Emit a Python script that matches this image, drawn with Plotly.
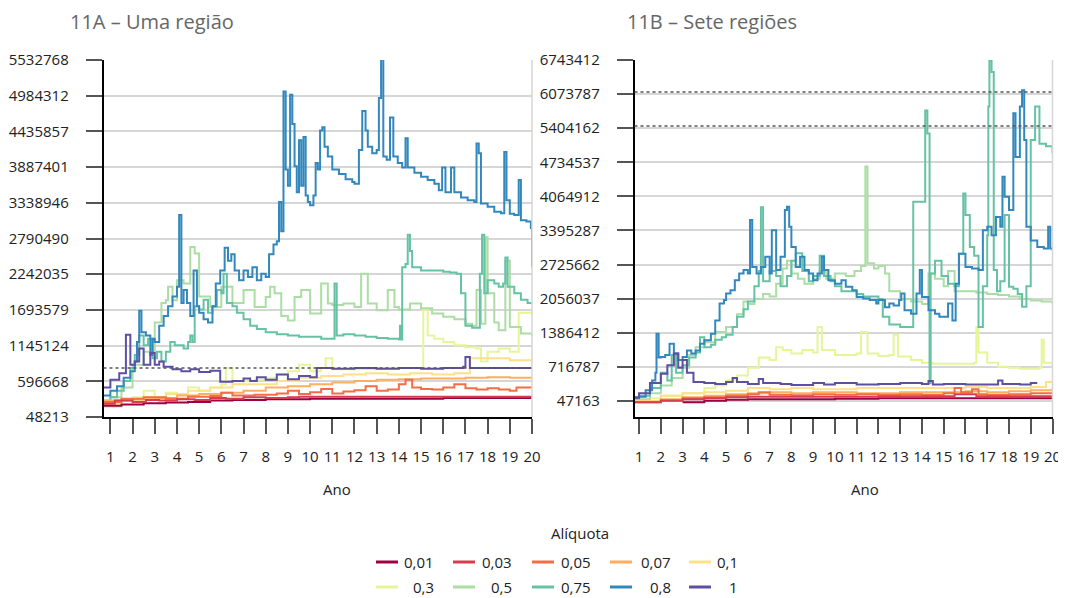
import plotly.graph_objects as go

# page is drawn with an 8px body margin: the figure is sized to fit and
# pixel positions below are given in screen coordinates
OFF = 8
W, H = 1066 - OFF, 598 - OFF

# aliquot classes and colours (Spectral)
aliquotas = ["0,01", "0,03", "0,05", "0,07", "0,1", "0,3", "0,5", "0,75", "0,8", "1"]
cores = ["#9E0142", "#D53E4F", "#F46D43", "#FDAE61", "#FEE08B",
         "#E6F598", "#ABDDA4", "#66C2A5", "#3288BD", "#5E4FA2"]

# y ticks (as printed)
ticks_a = [48213, 596668, 1145124, 1693579, 2242035, 2790490, 3338946, 3887401, 4435857, 4984312, 5532768]
ticks_b = [47163, 716787, 1386412, 2056037, 2725662, 3395287, 4064912, 4734537, 5404162, 6073787, 6743412]
anos = list(range(1, 21))

# reference (dotted) lines, millions
ref_a = [0.80]
ref_b = [5.445, 6.115]

# ---- 11A: one region (year, value in millions) ----
a_001 = [(0.7, 0.22), (1.5, 0.24), (2.5, 0.26), (3.5, 0.27), (4.5, 0.28), (5.5, 0.30), (6.5, 0.31), (8.0, 0.32),
         (10.0, 0.33), (12.0, 0.33), (14.0, 0.33), (16.0, 0.34), (18.0, 0.34), (20.0, 0.34)]
a_003 = [(0.7, 0.25), (1.2, 0.30), (2.0, 0.28), (2.6, 0.31), (3.2, 0.30), (4.0, 0.32), (4.8, 0.31), (5.5, 0.34),
         (6.2, 0.33), (7.0, 0.35), (8.0, 0.34), (9.0, 0.35), (9.5, 0.36), (11.0, 0.36), (13.0, 0.36), (15.0, 0.36),
         (17.0, 0.36), (18.0, 0.36), (20.0, 0.36)]
a_005 = [(0.7, 0.28), (1.5, 0.33), (2.5, 0.35), (3.5, 0.33), (4.5, 0.36), (5.5, 0.37), (6.0, 0.42), (6.5, 0.38),
         (7.5, 0.39), (8.5, 0.41), (9.0, 0.45), (9.5, 0.40), (10.0, 0.43), (10.5, 0.48), (11.0, 0.41), (11.5, 0.44),
         (12.0, 0.46), (12.5, 0.52), (13.0, 0.45), (13.5, 0.47), (14.0, 0.55), (14.3, 0.62), (14.6, 0.50),
         (15.0, 0.48), (15.5, 0.47), (16.0, 0.50), (16.5, 0.55), (17.0, 0.49), (17.5, 0.47), (18.0, 0.49),
         (18.5, 0.47), (19.0, 0.45), (19.3, 0.50), (20.0, 0.50)]
a_007 = [(0.7, 0.30), (2.0, 0.32), (3.0, 0.34), (4.0, 0.38), (5.0, 0.40), (6.0, 0.42), (7.0, 0.45), (8.0, 0.50),
         (9.0, 0.52), (10.0, 0.55), (11.0, 0.58), (12.0, 0.60), (13.0, 0.62), (14.0, 0.63), (15.0, 0.64),
         (16.0, 0.64), (17.0, 0.65), (18.0, 0.66), (19.0, 0.65), (20.0, 0.64)]
a_01 = [(0.7, 0.25), (1.5, 0.30), (2.5, 0.35), (3.5, 0.40), (4.5, 0.45), (5.5, 0.50), (6.5, 0.55), (7.5, 0.55),
        (8.5, 0.60), (9.5, 0.65), (10.5, 0.68), (11.5, 0.70), (12.5, 0.72), (13.5, 0.70), (14.5, 0.72),
        (15.5, 0.70), (16.5, 0.72), (17.1, 0.72), (17.2, 0.95), (18.0, 0.95), (19.0, 0.92), (20.0, 0.90)]
a_03 = [(0.7, 0.20), (1.5, 0.30), (2.0, 0.35), (2.5, 0.45), (3.0, 0.35), (3.5, 0.42), (4.0, 0.40), (4.5, 0.50),
        (5.0, 0.45), (5.5, 0.50), (6.0, 0.55), (6.2, 0.80), (6.5, 0.55), (7.0, 0.60), (7.5, 0.62), (8.0, 0.65),
        (8.5, 0.70), (9.0, 0.75), (9.5, 0.85), (10.0, 0.75), (10.5, 0.80), (10.7, 0.95), (11.0, 0.78),
        (12.0, 0.78), (13.0, 0.80), (14.0, 0.80), (15.0, 0.80), (15.1, 1.70), (15.3, 1.30), (15.6, 1.25),
        (16.0, 1.20), (16.5, 1.15), (17.0, 1.12), (17.5, 1.10), (17.7, 0.90), (18.0, 1.05), (18.5, 1.10),
        (19.0, 1.05), (19.4, 1.65), (20.0, 1.62)]
a_05 = [(0.7, 0.30), (1.0, 0.35), (1.5, 0.50), (2.0, 0.85), (2.5, 1.05), (3.0, 1.50), (3.3, 1.80), (3.5, 1.84),
        (3.6, 2.05), (3.8, 1.84), (4.0, 2.15), (4.3, 2.10), (4.6, 2.66), (4.8, 2.56), (5.0, 1.90), (5.5, 1.74),
        (6.0, 2.05), (6.5, 1.80), (7.0, 2.00), (7.5, 1.74), (8.0, 1.89), (8.2, 2.05), (8.4, 1.95), (8.7, 1.60),
        (9.0, 1.53), (9.3, 1.89), (9.6, 2.00), (10.0, 1.64), (10.5, 2.10), (10.8, 1.79), (11.0, 1.77),
        (11.5, 1.79), (12.0, 1.74), (12.3, 2.25), (12.6, 1.79), (13.0, 1.69), (13.5, 2.00), (13.8, 1.74),
        (14.0, 1.70), (14.5, 1.79), (15.0, 1.72), (15.5, 1.64), (16.0, 1.59), (16.5, 1.55), (17.0, 1.48),
        (17.3, 1.45), (17.5, 2.00), (17.7, 1.48), (17.9, 2.81), (18.0, 1.95), (18.3, 1.50), (18.5, 1.38),
        (18.8, 2.45), (19.0, 1.43), (19.5, 1.33), (20.0, 1.28)]
a_075 = [(0.7, 0.25), (1.0, 0.35), (1.3, 0.45), (1.6, 0.60), (1.9, 0.80), (2.1, 1.00), (2.3, 1.30), (2.5, 1.15),
         (2.7, 1.25), (2.9, 0.95), (3.1, 1.05), (3.3, 0.90), (3.5, 1.05), (3.7, 1.20), (3.9, 1.15), (4.1, 1.15),
         (4.3, 1.10), (4.5, 1.20), (4.6, 1.30), (4.7, 1.20), (4.8, 1.75), (5.0, 1.70), (5.2, 1.85), (5.4, 1.65),
         (5.6, 1.75), (5.8, 2.00), (6.0, 1.95), (6.1, 2.25), (6.25, 1.80), (6.5, 1.75), (6.7, 1.65), (7.0, 1.55),
         (7.3, 1.45), (7.6, 1.40), (8.0, 1.35), (8.5, 1.32), (9.0, 1.30), (9.5, 1.28), (10.0, 1.28), (10.5, 1.25),
         (11.0, 1.25), (11.1, 2.10), (11.2, 1.30), (11.5, 1.32), (12.0, 1.30), (12.5, 1.28), (13.0, 1.26),
         (13.5, 1.25), (14.0, 1.24), (14.05, 1.45), (14.1, 1.24), (14.15, 2.35), (14.3, 2.40), (14.4, 2.85),
         (14.5, 2.60), (14.6, 2.35), (15.0, 2.30), (15.5, 2.30), (16.0, 2.28), (16.3, 2.27), (16.6, 2.25),
         (16.8, 1.95), (17.0, 1.45), (17.3, 1.42), (17.55, 1.42), (17.65, 2.25), (17.75, 2.85), (17.85, 1.95),
         (18.0, 2.15), (18.3, 2.10), (18.5, 2.05), (18.7, 2.10), (18.8, 2.50), (18.9, 2.05), (19.2, 1.95),
         (19.5, 1.85), (19.8, 1.80), (20.0, 1.78)]
a_08 = [(0.7, 0.38), (1.0, 0.45), (1.3, 0.52), (1.6, 0.65), (1.9, 0.75), (2.1, 0.90), (2.2, 1.20), (2.3, 1.68),
        (2.4, 1.35), (2.6, 1.30), (2.8, 1.00), (2.9, 1.25), (3.0, 1.20), (3.2, 1.45), (3.4, 1.60), (3.6, 1.75),
        (3.8, 1.90), (4.0, 2.05), (4.1, 3.15), (4.2, 1.80), (4.3, 2.00), (4.45, 1.80), (4.6, 1.60), (4.75, 2.30),
        (4.9, 1.75), (5.0, 1.65), (5.2, 1.55), (5.4, 1.50), (5.6, 1.75), (5.75, 2.10), (5.95, 2.30), (6.15, 2.65),
        (6.3, 2.45), (6.45, 2.55), (6.6, 2.30), (6.8, 2.15), (7.0, 2.30), (7.2, 2.20), (7.4, 2.35), (7.6, 2.15),
        (7.8, 2.25), (8.0, 2.20), (8.15, 2.55), (8.35, 2.70), (8.5, 2.75), (8.6, 3.35), (8.7, 2.90), (8.8, 5.05),
        (8.9, 3.85), (9.0, 3.60), (9.1, 5.00), (9.2, 4.55), (9.3, 3.90), (9.4, 3.50), (9.5, 4.30), (9.6, 3.60),
        (9.7, 4.35), (9.8, 3.45), (9.9, 3.35), (10.0, 3.30), (10.15, 3.45), (10.25, 3.95), (10.35, 3.85),
        (10.45, 4.45), (10.55, 4.50), (10.65, 4.20), (10.8, 4.05), (11.0, 3.85), (11.3, 3.78), (11.6, 3.70),
        (11.9, 3.66), (12.0, 3.63), (12.2, 4.15), (12.35, 4.75), (12.5, 4.45), (12.6, 4.20), (12.8, 4.10),
        (13.0, 4.15), (13.1, 4.95), (13.2, 5.55), (13.3, 4.05), (13.45, 4.00), (13.6, 4.65), (13.75, 4.05),
        (13.95, 3.95), (14.15, 3.88), (14.3, 4.33), (14.4, 3.88), (14.7, 3.80), (15.0, 3.74), (15.3, 3.69),
        (15.6, 3.63), (15.8, 3.53), (15.95, 3.88), (16.1, 3.50), (16.35, 3.88), (16.5, 3.50), (16.8, 3.42),
        (17.1, 3.38), (17.4, 3.35), (17.5, 4.25), (17.6, 4.10), (17.7, 3.33), (18.0, 3.28), (18.3, 3.20),
        (18.6, 3.18), (18.75, 4.12), (18.85, 3.38), (19.0, 3.17), (19.2, 3.15), (19.4, 3.69), (19.5, 3.07),
        (19.75, 3.05), (19.95, 2.95), (20.0, 2.35)]
a_1 = [(0.7, 0.50), (1.0, 0.62), (1.4, 0.72), (1.7, 1.31), (1.9, 0.85), (2.1, 0.90), (2.3, 1.10), (2.5, 0.85),
       (2.8, 1.03), (3.0, 0.85), (3.2, 0.90), (3.4, 0.82), (3.6, 0.82), (3.8, 0.78), (4.2, 0.75), (4.6, 0.78),
       (5.0, 0.74), (5.5, 0.76), (5.95, 0.59), (6.5, 0.60), (7.0, 0.64), (7.3, 0.60), (7.6, 0.66), (8.0, 0.62),
       (8.5, 0.70), (9.0, 0.63), (9.5, 0.68), (10.0, 0.66), (10.3, 0.80), (11.0, 0.79), (12.0, 0.80),
       (13.0, 0.79), (14.0, 0.80), (15.0, 0.79), (16.0, 0.80), (16.9, 0.82), (17.0, 0.97), (17.2, 0.80),
       (18.0, 0.80), (20.0, 0.80)]

# ---- 11B: seven regions ----
b_001 = [(3.0, 0.02), (4.0, 0.05), (5.0, 0.07), (6.0, 0.08), (7.0, 0.08), (8.0, 0.08), (10.0, 0.09), (12.0, 0.10),
         (14.0, 0.10), (15.0, 0.10), (17.0, 0.10), (19.0, 0.10), (20.0, 0.10)]
b_003 = [(0.8, 0.02), (2.0, 0.05), (3.0, 0.08), (4.0, 0.10), (5.0, 0.12), (6.0, 0.13), (8.0, 0.13), (10.0, 0.13),
         (12.0, 0.14), (14.0, 0.14), (15.5, 0.18), (16.5, 0.14), (18.0, 0.14), (20.0, 0.14)]
b_005 = [(0.8, 0.02), (2.0, 0.06), (3.0, 0.10), (4.0, 0.12), (5.0, 0.15), (6.0, 0.18), (6.5, 0.22), (7.0, 0.17),
         (8.0, 0.16), (9.0, 0.18), (10.0, 0.17), (11.0, 0.18), (12.0, 0.17), (13.0, 0.18), (14.0, 0.17),
         (15.0, 0.20), (15.5, 0.30), (15.8, 0.22), (16.3, 0.28), (16.6, 0.18), (17.0, 0.17), (18.0, 0.18),
         (19.0, 0.20), (20.0, 0.22)]
b_007 = [(0.8, 0.03), (2.0, 0.08), (3.0, 0.12), (4.0, 0.15), (5.0, 0.18), (6.0, 0.20), (7.0, 0.22), (8.0, 0.20),
         (9.0, 0.22), (10.0, 0.22), (11.0, 0.20), (12.0, 0.20), (13.0, 0.22), (14.0, 0.22), (15.0, 0.22),
         (16.0, 0.24), (17.0, 0.22), (18.0, 0.24), (19.0, 0.26), (20.0, 0.30)]
b_01 = [(0.8, 0.05), (2.0, 0.15), (3.0, 0.20), (4.0, 0.22), (5.0, 0.25), (6.0, 0.30), (7.0, 0.28), (8.0, 0.30),
        (9.0, 0.28), (10.0, 0.28), (11.0, 0.30), (12.0, 0.30), (13.0, 0.30), (14.0, 0.30), (15.0, 0.30),
        (16.0, 0.32), (17.0, 0.30), (18.0, 0.30), (19.0, 0.32), (19.7, 0.42), (20.0, 0.42)]
b_03 = [(0.8, 0.05), (1.5, 0.10), (2.0, 0.15), (3.0, 0.20), (4.0, 0.30), (4.5, 0.35), (5.0, 0.45), (5.5, 0.55),
        (6.0, 0.70), (6.5, 0.90), (7.0, 0.85), (7.3, 1.10), (7.6, 1.05), (8.0, 0.98), (8.5, 1.05), (9.0, 1.00),
        (9.2, 1.50), (9.4, 1.05), (10.0, 0.95), (10.5, 0.95), (11.0, 0.98), (11.2, 1.40), (11.5, 0.98),
        (12.0, 0.93), (12.5, 0.95), (12.7, 1.35), (12.9, 0.92), (13.5, 0.85), (14.0, 0.80), (14.5, 0.78),
        (15.0, 0.78), (15.5, 0.78), (16.0, 0.78), (16.4, 0.80), (16.5, 1.50), (16.6, 1.00), (17.0, 0.80),
        (17.5, 0.72), (18.0, 0.70), (18.5, 0.68), (19.0, 0.68), (19.4, 0.70), (19.5, 1.25), (19.6, 0.80),
        (20.0, 0.72)]
b_05 = [(0.8, 0.08), (1.5, 0.20), (2.0, 0.35), (2.5, 0.50), (3.0, 0.70), (3.3, 0.95), (3.6, 1.10), (4.0, 1.20),
        (4.5, 1.40), (5.0, 1.50), (5.5, 1.75), (5.8, 2.00), (6.0, 1.95), (6.3, 2.05), (6.7, 2.15), (7.0, 2.10),
        (7.3, 2.35), (7.6, 2.65), (7.8, 2.80), (8.0, 2.55), (8.3, 2.45), (8.6, 2.35), (9.0, 2.45), (9.3, 2.60),
        (9.6, 2.45), (10.0, 2.55), (10.5, 2.50), (10.9, 2.60), (11.2, 2.70), (11.4, 4.65), (11.5, 2.75),
        (11.8, 2.65), (12.0, 2.70), (12.3, 2.55), (12.5, 2.20), (13.0, 2.05), (13.5, 2.00), (14.0, 1.95),
        (14.3, 2.55), (14.6, 2.45), (15.0, 2.30), (15.2, 2.60), (15.5, 2.20), (16.0, 2.20), (16.5, 2.18),
        (17.0, 2.15), (17.5, 2.13), (18.0, 2.10), (18.5, 2.05), (19.0, 2.02), (19.5, 2.00), (20.0, 1.95)]
b_075 = [(0.8, 0.10), (1.0, 0.15), (1.5, 0.30), (2.0, 0.60), (2.3, 0.45), (2.5, 0.95), (2.7, 0.60), (3.0, 0.75),
         (3.3, 0.90), (3.6, 1.00), (3.8, 1.30), (4.0, 1.10), (4.3, 1.15), (4.5, 1.25), (4.8, 1.30), (5.0, 1.35),
         (5.3, 1.50), (5.5, 1.70), (5.8, 1.85), (6.0, 2.00), (6.3, 2.30), (6.5, 2.60), (6.6, 3.85), (6.7, 2.40),
         (7.0, 2.60), (7.3, 2.50), (7.5, 2.30), (7.8, 2.50), (8.0, 2.80), (8.2, 2.95), (8.5, 2.60), (8.8, 2.40),
         (9.0, 2.50), (9.3, 2.90), (9.5, 2.50), (9.8, 2.40), (10.0, 2.30), (10.3, 2.20), (10.6, 2.20),
         (11.0, 2.15), (11.3, 2.10), (11.6, 2.10), (12.0, 2.05), (12.2, 1.70), (12.5, 1.55), (13.0, 1.50),
         (13.5, 1.50), (13.6, 3.96), (14.0, 3.96), (14.15, 5.75), (14.25, 5.30), (14.35, 0.40), (14.4, 2.55),
         (14.6, 2.80), (14.9, 2.50), (15.2, 2.35), (15.5, 2.30), (15.7, 2.94), (15.9, 4.12), (16.0, 3.70),
         (16.2, 3.07), (16.4, 2.90), (16.6, 1.50), (16.8, 2.30), (17.0, 3.30), (17.05, 5.83), (17.1, 6.74),
         (17.2, 6.51), (17.3, 2.62), (17.45, 2.20), (17.6, 2.40), (17.8, 3.70), (18.0, 2.29), (18.2, 2.25),
         (18.4, 2.15), (18.6, 1.90), (18.8, 2.30), (19.0, 5.17), (19.2, 5.83), (19.4, 5.10), (19.7, 5.05),
         (20.0, 4.91)]
b_08 = [(0.8, 0.10), (1.0, 0.13), (1.3, 0.26), (1.6, 0.45), (1.75, 0.60), (1.8, 1.37), (1.9, 0.90), (2.0, 0.91),
        (2.2, 0.95), (2.4, 1.17), (2.6, 0.98), (2.8, 0.85), (3.0, 0.91), (3.2, 1.04), (3.4, 0.98), (3.6, 1.04),
        (3.8, 1.17), (4.0, 1.24), (4.3, 1.37), (4.5, 1.63), (4.7, 1.96), (4.9, 2.03), (5.0, 2.16), (5.2, 2.22),
        (5.4, 2.42), (5.6, 2.55), (5.8, 2.62), (6.0, 2.55), (6.1, 3.60), (6.2, 2.68), (6.4, 2.55), (6.6, 2.68),
        (6.8, 2.88), (7.0, 2.55), (7.1, 3.40), (7.3, 2.62), (7.5, 2.88), (7.7, 3.80), (7.8, 3.86), (7.9, 3.47),
        (8.0, 3.07), (8.2, 2.68), (8.4, 2.88), (8.6, 2.62), (8.8, 2.55), (9.0, 2.42), (9.2, 2.55), (9.4, 2.88),
        (9.5, 2.62), (9.7, 2.42), (10.0, 2.35), (10.3, 2.42), (10.5, 2.29), (10.8, 2.22), (11.0, 2.09),
        (11.3, 2.06), (11.6, 2.03), (11.9, 1.96), (12.0, 2.03), (12.3, 1.89), (12.5, 1.96), (12.7, 1.92),
        (12.95, 2.03), (13.05, 2.16), (13.2, 1.83), (13.5, 1.76), (13.75, 2.16), (13.9, 2.62), (14.0, 2.09),
        (14.3, 1.83), (14.6, 1.76), (14.8, 1.70), (15.0, 1.70), (15.2, 1.96), (15.4, 1.63), (15.55, 2.35),
        (15.7, 2.94), (16.0, 2.68), (16.3, 2.65), (16.6, 2.62), (16.8, 3.40), (17.0, 3.47), (17.2, 3.30),
        (17.4, 3.66), (17.6, 3.47), (17.7, 4.45), (17.8, 4.06), (18.0, 3.80), (18.2, 5.70), (18.3, 4.84),
        (18.5, 5.83), (18.6, 6.15), (18.7, 5.17), (18.8, 3.47), (19.0, 3.20), (19.3, 3.07), (19.6, 3.04),
        (19.8, 3.47), (19.9, 3.04), (20.0, 3.00)]
b_1 = [(0.8, 0.12), (1.0, 0.20), (1.5, 0.40), (2.0, 0.58), (2.3, 0.75), (2.6, 0.98), (2.8, 0.70), (3.0, 0.85),
       (3.2, 0.60), (3.5, 0.42), (4.0, 0.40), (4.5, 0.38), (5.0, 0.42), (5.3, 0.50), (5.5, 0.42), (6.0, 0.38),
       (6.5, 0.48), (6.7, 0.40), (7.0, 0.40), (7.5, 0.38), (8.0, 0.36), (9.0, 0.40), (9.5, 0.37), (10.0, 0.40),
       (11.0, 0.37), (12.0, 0.38), (13.0, 0.40), (14.0, 0.38), (14.3, 0.44), (14.5, 0.37), (15.0, 0.38),
       (16.0, 0.37), (17.0, 0.37), (17.5, 0.45), (17.7, 0.38), (18.5, 0.37), (19.0, 0.40), (19.3, 0.40)]

series_a = [a_001, a_003, a_005, a_007, a_01, a_03, a_05, a_075, a_08, a_1]
series_b = [b_001, b_003, b_005, b_007, b_01, b_03, b_05, b_075, b_08, b_1]
# drawing order (back to front)
ordem = [5, 6, 7, 8, 4, 3, 2, 0, 1, 9]

FONT = "Open Sans, Noto Sans, sans-serif"

fig = go.Figure()
for series, xa, ya in [(series_a, "x", "y"), (series_b, "x2", "y2")]:
    for i in ordem:
        pts = series[i]
        fig.add_trace(go.Scatter(
            x=[p[0] for p in pts], y=[p[1] * 1e6 for p in pts],
            mode="lines", line=dict(color=cores[i], width=2, shape="hv"),
            name=aliquotas[i], showlegend=False, xaxis=xa, yaxis=ya, hoverinfo="skip"))


def px2x(px):
    return (px - OFF) / W


def px2y(py):
    return 1 - (py - OFF) / H


y_dom = [px2y(417), px2y(60)]
eixo_y = dict(showgrid=True, gridcolor="#d6d6d6", gridwidth=2, zeroline=False, automargin=False,
              showline=True, linecolor="#000", linewidth=1.5,
              ticks="outside", ticklen=16, tickwidth=1.5, tickcolor="#555",
              ticklabelstandoff=14, tickfont=dict(family=FONT, size=15, color="#222"))
eixo_x = dict(showgrid=False, zeroline=False, showline=True, linecolor="#000", linewidth=1.5, automargin=False,
              ticks="outside", ticklen=15, tickwidth=1.5, tickcolor="#555",
              tickvals=anos, ticktext=[str(a) for a in anos], ticklabelstandoff=10,
              ticklabeloverflow="allow", tickfont=dict(family=FONT, size=15, color="#222"))

fig.update_layout(
    width=W, height=H, margin=dict(l=0, r=0, t=0, b=0, pad=0, autoexpand=False),
    paper_bgcolor="white", plot_bgcolor="white",
    font=dict(family=FONT, size=15, color="#222"),
    xaxis=dict(eixo_x, domain=[px2x(103.5), px2x(532)], range=[0.69, 20.0], anchor="y"),
    yaxis=dict(eixo_y, domain=y_dom, range=[ticks_a[0], ticks_a[-1]], anchor="x",
               tickvals=ticks_a, ticktext=[str(t) for t in ticks_a]),
    xaxis2=dict(eixo_x, domain=[px2x(634.5), px2x(1052.5)], range=[0.79, 20.0], anchor="y2"),
    yaxis2=dict(eixo_y, domain=y_dom, range=[-267300, ticks_b[-1]], anchor="x2",
                tickvals=ticks_b, ticktext=[str(t) for t in ticks_b]),
)

shapes = []
for v in ref_a:
    shapes.append(dict(type="line", xref="x domain", yref="y", x0=0, x1=1, y0=v * 1e6, y1=v * 1e6,
                       line=dict(color="#555", width=1.5, dash="dot")))
for v in ref_b:
    shapes.append(dict(type="line", xref="x2 domain", yref="y2", x0=0, x1=1, y0=v * 1e6, y1=v * 1e6,
                       line=dict(color="#555", width=1.5, dash="dot")))
# light frame on right edge
for xr, yr in [("x domain", "y domain"), ("x2 domain", "y2 domain")]:
    shapes.append(dict(type="line", xref=xr, yref=yr, x0=1, x1=1, y0=0, y1=1,
                       line=dict(color="#d6d6d6", width=1.5)))

# manual legend
leg_x0 = [376, 453, 532, 610, 689]
leg_txt_r = [435, 513, 592, 672, 739]
leg_y = [562, 587]
annotations = [
    dict(text="11A – Uma região", x=px2x(68), y=px2y(22), xref="paper", yref="paper",
         xanchor="left", yanchor="middle", showarrow=False, font=dict(family=FONT, size=20, color="#666")),
    dict(text="11B – Sete regiões", x=px2x(625), y=px2y(22), xref="paper", yref="paper",
         xanchor="left", yanchor="middle", showarrow=False, font=dict(family=FONT, size=20, color="#666")),
    dict(text="Ano", x=px2x(337), y=px2y(489), xref="paper", yref="paper", showarrow=False,
         xanchor="center", yanchor="middle", font=dict(family=FONT, size=15, color="#222")),
    dict(text="Ano", x=px2x(865), y=px2y(489), xref="paper", yref="paper", showarrow=False,
         xanchor="center", yanchor="middle", font=dict(family=FONT, size=15, color="#222")),
    dict(text="Alíquota", x=px2x(580), y=px2y(533), xref="paper", yref="paper", showarrow=False,
         xanchor="center", yanchor="middle", font=dict(family=FONT, size=15, color="#222")),
]
for k, nome in enumerate(aliquotas):
    lin, col = divmod(k, 5)
    yy = px2y(leg_y[lin])
    shapes.append(dict(type="line", xref="paper", yref="paper",
                       x0=px2x(leg_x0[col]), x1=px2x(leg_x0[col] + 22), y0=yy, y1=yy,
                       line=dict(color=cores[k], width=3)))
    annotations.append(dict(text=nome, x=px2x(leg_txt_r[col]), y=yy, xref="paper", yref="paper",
                            showarrow=False, xanchor="right", yanchor="middle", borderpad=0,
                            font=dict(family=FONT, size=15, color="#222")))

fig.update_layout(shapes=shapes, annotations=annotations)
fig.write_html("out.html")
